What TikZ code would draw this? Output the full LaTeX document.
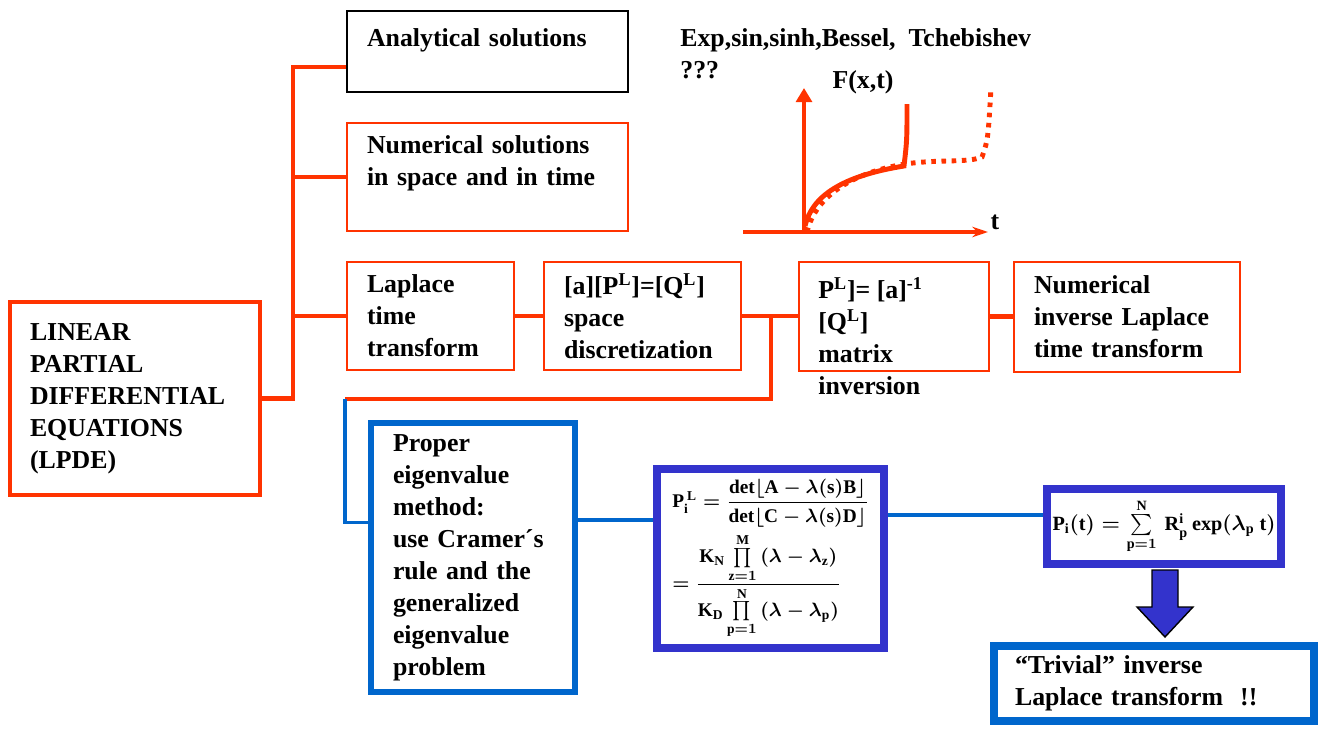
\documentclass[tikz,border=0pt]{standalone}
\usepackage{amsmath}
\usepackage{fontspec}
\setmainfont{Liberation Serif}
\usepackage{tikz}
\usetikzlibrary{arrows.meta, positioning}
\definecolor{LineRed}{HTML}{FF3300}
\definecolor{EigBlue}{HTML}{0066CC}
\definecolor{FormBlue}{HTML}{3333CC}

\begin{document}
\begin{tikzpicture}[x=0.02cm, y=-0.02cm,
    txt/.style={font=\fontsize{14.7}{18.2}\selectfont\bfseries, align=left},
    redbox/.style={txt, draw=LineRed, line width=1.1pt, inner xsep=0.4cm, inner ysep=2pt},
    eigbox/.style={txt, draw=EigBlue, line width=3.4pt, inner xsep=0.44cm, inner ysep=2pt},
    formbox/.style={draw=FormBlue, line width=4.5pt, font=\fontsize{11}{13}\selectfont\boldmath, align=left},
    redline/.style={LineRed, line width=2.3pt},
    blueline/.style={EigBlue, line width=1.8pt}]
  \useasboundingbox (0,0) rectangle (1323,730);

  \node[redbox, line width=2.8pt, minimum width=5cm, minimum height=3.86cm, text width=4.2cm] (lpde) at (135,398.5)
    {LINEAR\\PARTIAL\\DIFFERENTIAL\\EQUATIONS\\(LPDE)};
  \node[redbox, draw=black, minimum width=5.62cm, minimum height=1.62cm, text width=4.82cm] (ana) at (487.5,51.5)
    {Analytical solutions\\[-2pt]\mbox{}};
  \node[redbox, minimum width=5.62cm, minimum height=2.16cm, text width=4.82cm] (num) at (487.5,177)
    {Numerical solutions\\in space and in time\\\mbox{}};
  \node[redbox, minimum width=3.34cm, minimum height=2.16cm, text width=2.54cm] (lap) at (430.5,316)
    {Laplace\\time\\transform};
  \node[redbox, minimum width=3.94cm, minimum height=2.16cm, text width=3.14cm] (dis) at (642.5,316)
    {[a][P\textsuperscript{L}]=[Q\textsuperscript{L}]\\space\\discretization};
  \node[redbox, minimum width=3.8cm, minimum height=2.18cm] (inv) at (894,316.5) {};
  \node[txt, anchor=north west, inner sep=0pt] (invtxt) at (818,277)
    {P\textsuperscript{L}]= [a]\textsuperscript{-1}\\{}[Q\textsuperscript{L}]\\matrix\\inversion};
  \node[redbox, minimum width=4.4cm, minimum height=2.2cm, text width=3.72cm] (nil) at (1127,317)
    {Numerical\\inverse Laplace\\time transform};

  \node[eigbox, minimum width=4.08cm, minimum height=5.38cm, text width=3.2cm] (eig) at (473,557.5)
    {Proper\\eigenvalue\\method:\\use Cramer´s\\rule and the\\generalized\\eigenvalue\\problem};
  \node[formbox, minimum width=4.54cm, minimum height=3.58cm] (frm) at (770.5,558.5)
    {$\mathrm{P}_{\mathrm{i}}^{\,\mathrm{L}} = \dfrac{\mathrm{det}\lfloor \mathrm{A}-\lambda(\mathrm{s})\mathrm{B}\rfloor}{\mathrm{det}\lfloor \mathrm{C}-\lambda(\mathrm{s})\mathrm{D}\rfloor}$\\[3pt]
     $= \dfrac{\textstyle\mathrm{K}_{\mathrm{N}}\prod\limits_{\mathrm{z}=1}^{\mathrm{M}}\,(\lambda-\lambda_{\mathrm{z}})}{\textstyle\mathrm{K}_{\mathrm{D}}\prod\limits_{\mathrm{p}=1}^{\mathrm{N}}\,(\lambda-\lambda_{\mathrm{p}})}$};
  \node[formbox, font=\fontsize{11.5}{14}\selectfont\boldmath, minimum width=4.48cm, minimum height=1.5cm] (sol) at (1164,526.5)
    {$\mathrm{P}_{\mathrm{i}}(\mathrm{t}) = \sum\limits_{\mathrm{p}=1}^{\mathrm{N}}\,\mathrm{R}_{\mathrm{p}}^{\mathrm{i}}\,\mathrm{exp}(\lambda_{\mathrm{p}}\ \mathrm{t})$};
  \node[eigbox, line width=4.5pt, inner xsep=0.42cm, minimum width=6.4cm, minimum height=1.5cm, text width=5.56cm] (triv) at (1154,683.5)
    {“Trivial” inverse\\Laplace transform \ !!};

  \node[txt, anchor=west, inner sep=0pt] (funcs) at (680,54) {Exp,sin,sinh,Bessel,\ \ Tchebishev\\???};
  \node[txt] (fxt) at (863,82) {F(x,t)};
  \node[txt] (tlab) at (995,222) {t};
  \coordinate (orig) at (804,232);
  \draw[redline, -{Triangle[width=9pt,length=8pt]}] (orig) -- (804,88);
  \draw[redline, -{Stealth[width=6pt,length=9pt]}] (743,232) -- (988,232);
  \draw[redline, line width=2.8pt] (805,226) .. controls (812,196) and (842,176) .. (904,166) .. controls (907,140) .. (907,104);
  \draw[redline, line width=2.8pt, dash pattern=on 2.6pt off 3.2pt] (807,232) .. controls (816,194) and (856,172) .. (905,164)
    .. controls (940,159) and (968,163) .. (982,157) .. controls (988,140) .. (991,88);

  \coordinate (trunk) at (293,67);
  \draw[redline] (lpde.east) -| (trunk) -- (trunk -| ana.west);
  \draw[redline] (trunk |- num.west) -- (num.west);
  \draw[redline] (trunk |- lap.west) -- (lap.west);
  \draw[redline] (lap.east) -- (lap.east -| dis.west);
  \draw[redline] (dis.east) -- (dis.east -| inv.west);
  \draw[redline] (inv.east) -- (inv.east -| nil.west);
  \coordinate (split) at (771,316);
  \coordinate (bend) at (345,399);
  \draw[redline] (split) |- (bend);
  \draw[blueline] (bend) |- ([yshift=0.7cm]eig.west);
  \draw[blueline] ([yshift=0.75cm]eig.east) -- ([yshift=0.75cm]eig.east -| frm.west);
  \draw[blueline] ([yshift=0.87cm]frm.east) -- ([yshift=0.87cm]frm.east -| sol.west);
  \draw[fill=FormBlue, line width=0.8pt] (1152,570) -- (1178,570) -- (1178,607) -- (1193,607) -- (1165,637)
    -- (1137,607) -- (1152,607) -- cycle;
\end{tikzpicture}
\end{document}
